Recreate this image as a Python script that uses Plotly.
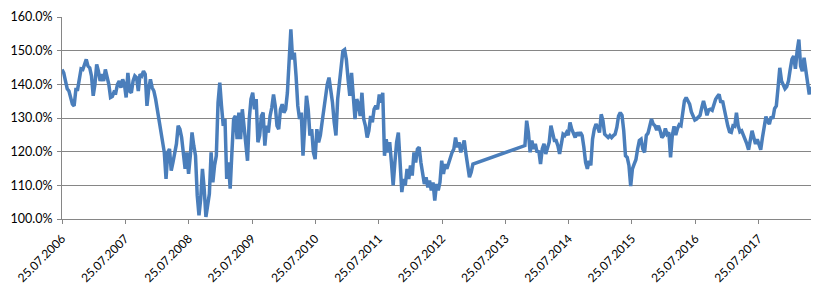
import pandas as pd
import plotly.graph_objects as go

# Segment before the data gap (10-day sampling)
start_a = "2006-07-25"
values_a = [
    144.4, 143.4, 141.0, 138.7, 138.0, 136.1, 134.1, 133.6, 138.5, 138.5,
    142.0, 144.6, 144.4, 146.4, 147.4, 145.4, 144.9, 142.5, 136.6, 140.0,
    145.9, 143.9, 141.0, 143.0, 141.0, 144.4, 142.0, 140.0, 136.1, 136.4,
    137.7, 137.5, 140.0, 141.0, 139.0, 141.5, 140.0,
    136.1, 143.4, 138.0, 137.5, 141.0, 142.5, 142.0, 138.0, 143.0, 142.5,
    143.9, 143.0, 133.6, 138.5, 141.5, 139.0, 138.0, 135.6, 132.6, 129.7,
    126.7, 123.3, 119.8, 111.9, 119.8, 120.8, 114.4, 116.8, 120.3, 122.3,
    127.7, 126.7, 124.2, 118.8, 114.9, 119.8, 113.4,
    118.8, 125.7, 121.8, 118.8, 107.0, 101.1, 106.0, 114.9, 109.0, 100.6,
    104.0, 107.5, 119.8, 110.9, 115.9, 118.8, 134.6, 140.5, 133.6, 127.7,
    129.7, 111.9, 116.8, 109.0, 119.8, 129.7, 130.6, 123.7, 131.6, 123.7,
    132.6, 127.7, 122.8, 117.3, 129.7, 135.6,
    137.5, 132.6, 135.6, 122.8, 124.8, 130.6, 131.6, 121.8, 127.7, 125.7,
    130.6, 133.1, 137.0, 133.6, 127.7, 126.7, 132.6, 134.1, 131.6, 132.6,
    137.5, 145.4, 156.3, 147.4, 149.4, 142.5, 133.6, 129.7, 131.6, 118.8,
    129.7, 136.6, 132.6, 124.8, 126.7, 119.8,
    117.8, 126.7, 122.8, 124.8, 128.7, 132.6, 134.6, 140.0, 142.0, 138.5,
    134.6, 128.7, 124.8, 135.6, 140.0, 145.4, 149.9, 150.3, 147.4, 141.5,
    136.6, 143.4, 136.1, 129.7, 135.6, 134.1, 130.6, 137.5, 129.7, 127.7,
    124.2, 126.2, 130.6, 128.7, 132.6, 133.6, 132.6, 137.0, 134.6, 137.5,
    118.8, 123.7, 119.8, 122.8, 116.8, 110.0, 116.8, 122.8, 125.7, 117.8,
    108.0, 111.9, 110.0, 114.9, 111.9, 115.9, 112.9, 119.8, 116.8, 120.8,
    121.3, 116.8, 112.9, 110.4, 112.4, 109.4, 111.4, 108.5, 110.9, 105.5,
    110.4, 108.5, 110.9, 117.3, 113.4, 116.3, 114.9, 116.8, 117.8, 119.8,
    120.8, 124.2, 121.3, 122.8, 119.8, 121.3, 123.3, 119.3, 116.3, 112.4,
    113.9, 116.3,
]

# Segment after the data gap
start_b = "2013-11-15"
values_b = [
    121.8, 129.2, 125.7, 119.8, 123.3, 120.8, 122.3, 119.8, 120.3, 116.3,
    120.8, 122.3, 119.3, 121.3, 122.8, 127.7, 125.7, 123.3, 123.3, 121.8,
    119.3, 122.3, 125.2, 124.8, 125.7, 124.9, 128.7, 126.7, 125.2, 124.2,
    125.7, 124.8, 125.7, 124.8, 121.3, 116.8, 114.9, 117.3, 115.9, 123.7,
    126.7, 128.2, 127.2, 125.7, 131.1, 129.2, 125.2, 124.8, 124.2, 124.8,
    124.2, 124.8, 125.2, 127.2, 130.6, 131.6, 130.8, 126.2, 118.8, 118.3,
    115.9, 109.8, 114.9, 116.3, 117.6, 120.8, 123.3, 123.7, 120.8, 119.8,
    124.8, 125.5, 127.7, 129.7, 128.2, 127.7, 126.4, 127.7, 126.2, 124.2,
    124.8, 126.9, 125.2, 125.7, 118.3, 124.8, 127.5, 124.9, 126.9, 128.0,
    127.7, 131.4, 135.1, 136.1, 134.8, 134.1, 131.8, 130.4, 129.4, 129.7,
    130.2, 130.8, 133.1, 135.1, 133.1, 130.8, 132.4, 132.6, 132.3, 134.4,
    135.6, 136.4, 137.0, 134.6, 135.1, 132.6, 129.9, 127.7, 125.9, 125.7,
    127.7, 127.5, 131.6, 127.7, 125.9, 126.2, 124.9, 123.7, 122.3, 120.6,
    123.7, 126.2, 124.2, 122.3, 123.7, 122.3, 120.6, 124.2, 127.7, 130.4,
    128.9, 128.2, 130.4, 129.8, 132.8, 133.6, 139.0, 144.9, 141.0, 140.0,
    138.7, 139.3, 141.0, 144.4, 147.4, 148.4, 144.6, 149.9, 153.3, 145.4,
    143.9, 147.9, 143.9, 139.5, 137.0, 139.3,
]

tick_years = list(range(2006, 2018))
y_ticks = [100, 110, 120, 130, 140, 150, 160]

dates_a = pd.date_range(start_a, periods=len(values_a), freq="10D")
dates_b = pd.date_range(start_b, periods=len(values_b), freq="10D")
x = list(dates_a) + list(dates_b)
y = values_a + values_b

tickvals = [f"{yr}-07-25" for yr in tick_years]
ticktext = [f"25.07.{yr}" for yr in tick_years]
y_ticktext = [f"{v:.1f}%" for v in y_ticks]

fig = go.Figure()
fig.add_trace(go.Scatter(
    x=x, y=y, mode="lines",
    line=dict(color="#4A7EBB", width=3.5),
    hoverinfo="skip",
))

axis_gray = "#868686"
fig.update_layout(
    width=829, height=289,
    margin=dict(l=62, r=18, t=17, b=70, autoexpand=False),
    plot_bgcolor="white", paper_bgcolor="white",
    showlegend=False,
    font=dict(family="Lato, Carlito, Calibri, sans-serif", size=12, color="#000000"),
    xaxis=dict(
        type="date",
        range=[x[0], x[-1]],
        tickmode="array", tickvals=tickvals, ticktext=ticktext,
        tickangle=-45,
        tickfont=dict(size=12),
        ticklabelstandoff=3,
        automargin=False,
        ticks="outside", ticklen=4, tickcolor=axis_gray,
        showline=True, linecolor=axis_gray, linewidth=1,
        showgrid=False, zeroline=False,
    ),
    yaxis=dict(
        range=[100, 160],
        tickmode="array", tickvals=y_ticks, ticktext=y_ticktext,
        tickfont=dict(size=12.5),
        ticklabelstandoff=2,
        automargin=False,
        ticks="outside", ticklen=4, tickcolor=axis_gray,
        showline=True, linecolor=axis_gray, linewidth=1,
        showgrid=True, gridcolor=axis_gray, gridwidth=1,
        zeroline=False,
    ),
)

fig.write_html("out.html")
